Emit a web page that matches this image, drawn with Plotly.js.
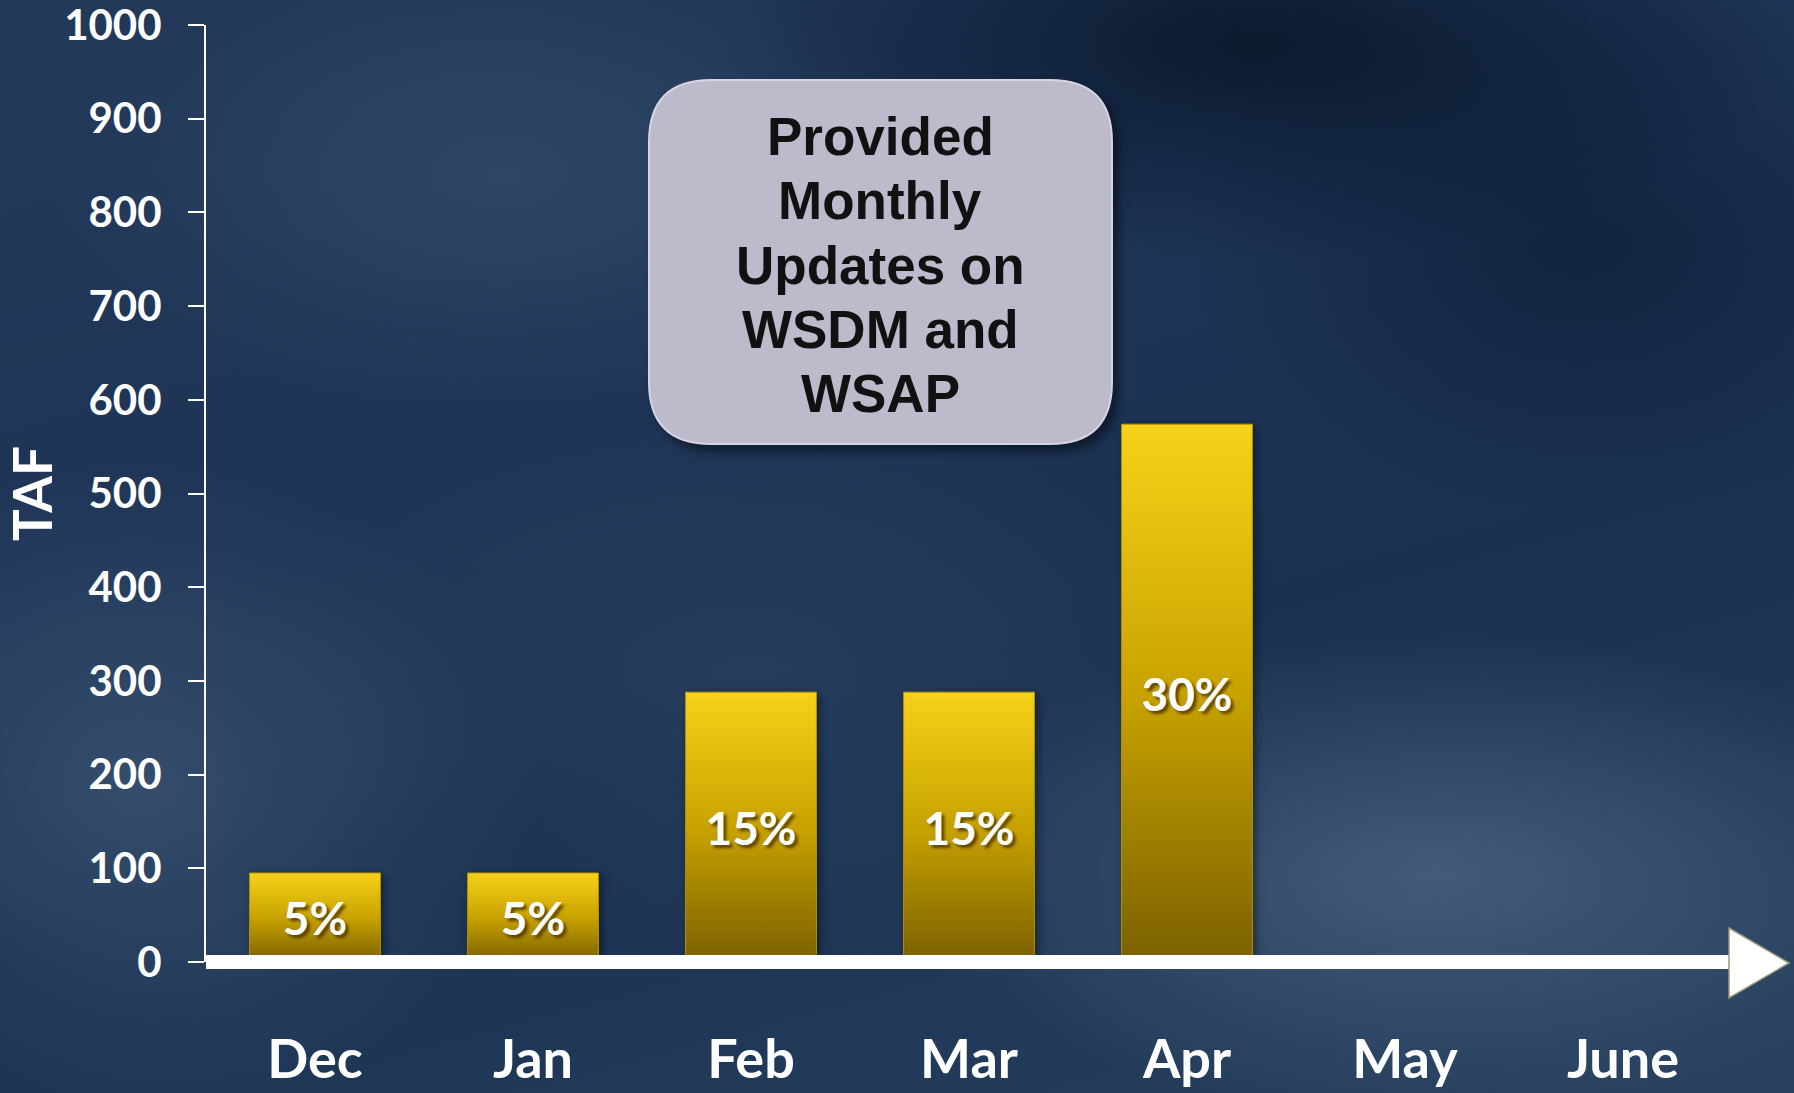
<!DOCTYPE html>
<html>
<head>
<meta charset="utf-8">
<script src="https://cdn.plot.ly/plotly-3.0.1.min.js"></script>
<style>
  html, body { margin: 0; padding: 0; }
  #chart {
    width: 1794px; height: 1093px;
    background:
      radial-gradient(ellipse 30% 20% at 70% 4%, rgba(6,18,36,0.8), rgba(6,18,36,0) 100%),
      radial-gradient(ellipse 22% 25% at 88% 22%, rgba(10,25,45,0.6), rgba(10,25,45,0) 100%),
      radial-gradient(ellipse 30% 22% at 80% 80%, rgba(95,120,150,0.55), rgba(95,120,150,0) 100%),
      radial-gradient(ellipse 22% 30% at 8% 72%, rgba(85,110,140,0.45), rgba(85,110,140,0) 100%),
      radial-gradient(ellipse 25% 22% at 28% 16%, rgba(75,100,130,0.35), rgba(75,100,130,0) 100%),
      radial-gradient(ellipse 30% 25% at 42% 62%, rgba(60,85,115,0.35), rgba(60,85,115,0) 100%),
      linear-gradient(165deg, #22395a 0%, #1d3456 40%, #1a3151 60%, #27415f 100%);
  }
</style>
</head>
<body>
<div id="chart"></div>
<script>
// ---- data ----
const months = ['Dec', 'Jan', 'Feb', 'Mar', 'Apr', 'May', 'June'];
const tafValues = [95, 95, 288, 288, 574, null, null];
const shareLabels = ['5%', '5%', '15%', '15%', '30%', '', ''];
const yTickValues = [0, 100, 200, 300, 400, 500, 600, 700, 800, 900, 1000];
const noteLines = ['Provided', 'Monthly', 'Updates on', 'WSDM and', 'WSAP'];

// ---- layout geometry (decoration only) ----
const W = 1794, H = 1093;
const M = { l: 206, r: 62, t: 25, b: 131 };
const plotW = W - M.l - M.r, plotH = H - M.t - M.b;
const px2x = p => (p - M.l) / plotW;
const py2y = p => (H - M.b - p) / plotH;

function roundRect(x0, y0, x1, y1, r) {
  const rx = r / plotW, ry = r / plotH;
  const X0 = px2x(x0), X1 = px2x(x1), Y0 = py2y(y0), Y1 = py2y(y1);
  return `M ${X0 + rx},${Y0} L ${X1 - rx},${Y0} Q ${X1},${Y0} ${X1},${Y0 - ry} ` +
         `L ${X1},${Y1 + ry} Q ${X1},${Y1} ${X1 - rx},${Y1} L ${X0 + rx},${Y1} ` +
         `Q ${X0},${Y1} ${X0},${Y1 + ry} L ${X0},${Y0 - ry} Q ${X0},${Y0} ${X0 + rx},${Y0} Z`;
}

const trace = {
  type: 'bar',
  x: months,
  y: tafValues,
  text: shareLabels,
  textposition: 'inside',
  insidetextanchor: 'middle',
  constraintext: 'none',
  textfont: { family: 'Lato', size: 46, color: '#ffffff', weight: 700,
              shadow: '3px 3px 3px rgba(60,40,0,0.75)' },
  marker: { color: '#c9a400', line: { color: '#b89600', width: 1 } },
  hoverinfo: 'x+y',
  showlegend: false
};

const noteAnnotations = noteLines.map((line, i) => ({
  xref: 'paper', yref: 'paper',
  x: px2x(880), y: py2y(137 + 64 * i), xanchor: 'center', yanchor: 'middle',
  text: line, showarrow: false,
  font: { family: 'Liberation Sans', size: 53, color: '#111111', weight: 700 }
}));

const layout = {
  width: W, height: H,
  margin: M,
  paper_bgcolor: 'rgba(0,0,0,0)',
  plot_bgcolor: 'rgba(0,0,0,0)',
  bargap: 0.4,
  font: { family: 'Lato', color: '#ffffff' },
  xaxis: {
    type: 'category',
    categoryorder: 'array', categoryarray: months,
    range: [-0.5, 6.5],
    showline: false, showgrid: false, zeroline: false,
    ticks: '',
    ticklabelstandoff: 61,
    ticklabeloverflow: 'allow',
    tickfont: { family: 'Lato', size: 54, color: '#ffffff', weight: 700 },
    fixedrange: true
  },
  yaxis: {
    range: [0, 1000],
    tickvals: yTickValues,
    ticktext: yTickValues.map(String),
    showline: true, linecolor: '#ffffff', linewidth: 2,
    showgrid: false, zeroline: false,
    ticks: 'outside', ticklen: 16, tickwidth: 2, tickcolor: '#ffffff',
    ticklabelstandoff: 18,
    ticklabeloverflow: 'allow',
    tickfont: { family: 'Lato', size: 42, color: '#ffffff', weight: 700 },
    title: { text: 'TAF', standoff: 17,
             font: { family: 'Lato', size: 53, color: '#ffffff', weight: 700 } },
    fixedrange: true
  },
  shapes: [
    // note box shadow
    { type: 'path', xref: 'paper', yref: 'paper', layer: 'above',
      path: roundRect(655, 88, 1119, 452, 62),
      fillcolor: 'rgba(0,0,0,0.45)', line: { width: 0 } },
    // note box
    { type: 'path', xref: 'paper', yref: 'paper', layer: 'above',
      path: roundRect(649, 80, 1112, 444, 62),
      fillcolor: '#bcbacb', line: { color: '#d6d4e2', width: 2 } },
    // thick white baseline at zero (paper ref so it is not clipped)
    { type: 'line', xref: 'paper', yref: 'paper', layer: 'above',
      x0: 0, x1: px2x(1730), y0: 0, y1: 0,
      line: { color: '#ffffff', width: 14 } },
    // arrow head
    { type: 'path', xref: 'paper', yref: 'paper', layer: 'above',
      path: `M ${px2x(1729)},${py2y(928)} L ${px2x(1789)},${py2y(963)} L ${px2x(1729)},${py2y(998)} Z`,
      fillcolor: '#ffffff', line: { color: '#9a9a7a', width: 1.5 } }
  ],
  annotations: noteAnnotations
};

Plotly.newPlot('chart', [trace], layout, { displayModeBar: false, staticPlot: true }).then(gd => {
  const NS = 'http://www.w3.org/2000/svg';
  const svg = gd.querySelector('.main-svg');
  let defs = svg.querySelector('defs');
  if (!defs) { defs = document.createElementNS(NS, 'defs'); svg.insertBefore(defs, svg.firstChild); }
  const grad = document.createElementNS(NS, 'linearGradient');
  grad.setAttribute('id', 'goldGrad');
  grad.setAttribute('x1', '0'); grad.setAttribute('y1', '0');
  grad.setAttribute('x2', '0'); grad.setAttribute('y2', '1');
  [['0', '#f7d41e'], ['0.02', '#f5d01a'], ['0.1', '#eec914'], ['0.5', '#c8a300'], ['1', '#7a6000']].forEach(([o, c]) => {
    const s = document.createElementNS(NS, 'stop');
    s.setAttribute('offset', o); s.setAttribute('stop-color', c);
    grad.appendChild(s);
  });
  defs.appendChild(grad);
  gd.querySelectorAll('.barlayer .point path').forEach(p => {
    p.style.fill = 'url(#goldGrad)';
    p.style.filter = 'drop-shadow(3px 2px 4px rgba(0,0,0,0.45))';
  });
  const shapePaths = gd.querySelectorAll('.layer-above .shapelayer path');
  if (shapePaths.length) shapePaths[0].style.filter = 'blur(5px)';
});
</script>
</body>
</html>
